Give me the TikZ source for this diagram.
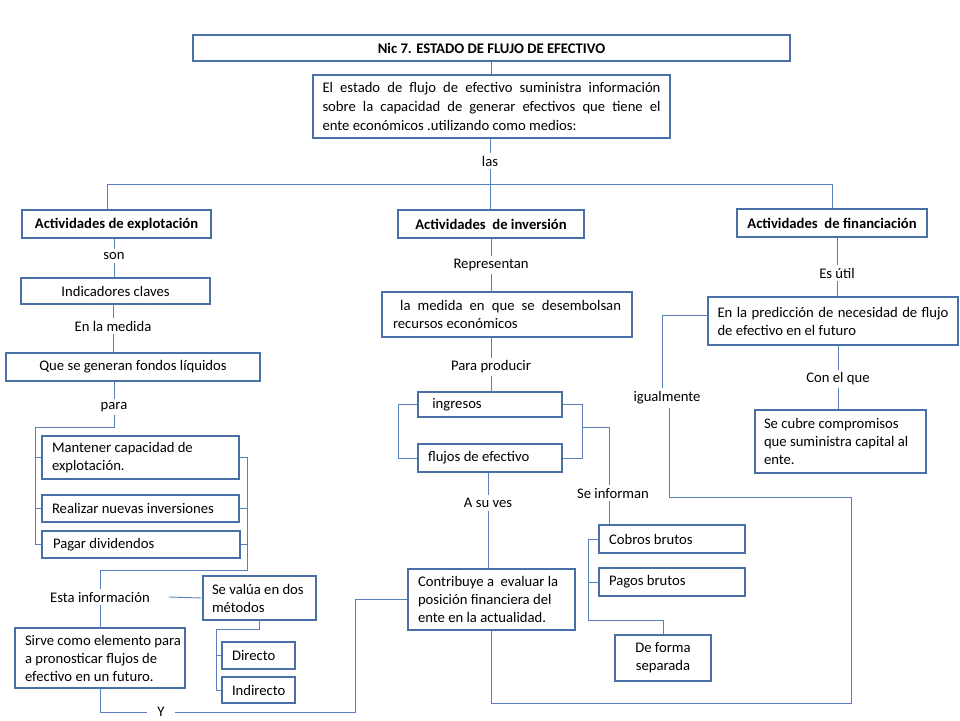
\documentclass[tikz,border=0pt]{standalone}
\usepackage{fontspec}
\setmainfont{Carlito}
\definecolor{boxc}{RGB}{74,112,168}
\definecolor{linec}{RGB}{88,128,188}
\newcommand\fs{\fontsize{14.67}{18}\selectfont}
\newcommand\jl[1]{\makebox[\hsize][s]{#1}}
\newcommand\ml[1]{\mbox{#1}}
\begin{document}
\begin{tikzpicture}[x=1pt,y=-1pt,
 box/.style={draw=boxc,line width=2.6pt,fill=white,inner sep=0pt,font=\fs,text=black,
   execute at begin node={\spaceskip=0pt\xspaceskip=0pt\relax}},
 bbox/.style={box,font=\fs\bfseries},
 lbl/.style={inner sep=3pt,font=\fs},
 conn/.style={draw=linec,line width=0.9pt}]
\useasboundingbox[fill=white] (0,0) rectangle (960,720);

% ---------- boxes ----------
\node[bbox,minimum width=597,minimum height=26] (title) at (491.5,48) {Nic 7. ESTADO DE FLUJO DE EFECTIVO};
\node[box,minimum width=357,minimum height=63,text width=338,align=left,font=\fontsize{14.67}{19.2}\selectfont] (intro) at (491.5,106.5)
 {\jl{El estado de flujo de efectivo suministra información}\\\jl{sobre la capacidad de generar efectivos que tiene el}\\\ml{ente económicos .utilizando como medios:}};

\node[bbox,minimum width=189,minimum height=28] (explot) at (116.5,224) {Actividades de explotación};
\node[bbox,minimum width=186,minimum height=28] (invers) at (491,224) {Actividades\ \ de inversión};
\node[bbox,minimum width=190,minimum height=28] (financ) at (832,223) {Actividades\ \ de financiación};

\node[box,minimum width=189,minimum height=26] (indic) at (115.5,291) {Indicadores claves};
\node[box,minimum width=254,minimum height=28] (quese) at (133,367) {Que se generan fondos líquidos};
\node[box,minimum width=197,minimum height=43,text width=177,align=left] (mant) at (140.5,457.5) {\ml{Mantener capacidad de}\\\ml{explotación.}};
\node[box,minimum width=197,minimum height=27,text width=177,align=left] (real) at (140.5,508.5) {\ml{Realizar nuevas inversiones}};
\node[box,minimum width=198,minimum height=27,text width=176,align=left] (pagar) at (141,544.5) {\ml{Pagar dividendos}};
\node[box,minimum width=113,minimum height=44,text width=95,align=left] (sevalua) at (259.5,598) {\ml{Se valúa en dos}\\\ml{métodos}};
\node[box,minimum width=73,minimum height=27,text width=53,align=left] (directo) at (258.5,655.5) {\ml{Directo}};
\node[box,minimum width=73,minimum height=26,text width=53,align=left] (indirecto) at (258.5,690) {\ml{Indirecto}};
\node[box,minimum width=170,minimum height=60,text width=150,align=left] (sirve) at (100,658) {\ml{Sirve como elemento para}\\\ml{a pronosticar flujos de}\\\ml{efectivo en un futuro.}};

\node[box,minimum width=250,minimum height=45,text width=228,align=left] (medida) at (507,314.5) {\jl{\ la medida en que se desembolsan}\\\ml{recursos económicos}};
\node[box,minimum width=144,minimum height=25,text width=122,align=left] (ingresos) at (490,404.5) {\ml{\ ingresos}};
\node[box,minimum width=144,minimum height=28,text width=124,align=left] (flujos) at (490,458) {\ml{flujos de efectivo}};
\node[box,minimum width=167,minimum height=61,text width=147,align=left] (contrib) at (491.5,599.5) {\ml{Contribuye a\ \ evaluar la}\\\ml{posición financiera del}\\\ml{ente en la actualidad.}};
\node[box,minimum width=146,minimum height=28,text width=126,align=left] (cobros) at (672,539) {\ml{Cobros brutos}};
\node[box,minimum width=146,minimum height=28,text width=126,align=left] (pagos) at (672,582) {\ml{Pagos brutos}};
\node[box,minimum width=96,minimum height=46,align=center] (deforma) at (663,658) {De forma\\separada};

\node[box,minimum width=250,minimum height=48,text width=231,align=left] (predic) at (833,321) {\jl{En la predicción de necesidad de flujo}\\\ml{de efectivo en el futuro}};
\node[box,minimum width=171,minimum height=63,text width=153,align=left] (secubre) at (840.5,441.5) {\ml{Se cubre compromisos}\\\ml{que suministra capital al}\\\ml{ente.}};

% ---------- labels ----------
\node[lbl] (las) at (490,161) {las};
\node[lbl] (son) at (114,256) {son};
\node[lbl] (enla) at (113,326) {En la medida};
\node[lbl] (para) at (114,407) {para};
\node[lbl] (esta) at (100,597) {Esta información};
\node[lbl,inner xsep=10pt] (Y) at (161,712) {Y};
\node[lbl] (repr) at (491,265) {Representan};
\node[lbl] (parap) at (491,367) {Para producir};
\node[lbl] (asuves) at (488,503) {A su ves};
\node[lbl] (seinf) at (613,493) {Se informan};
\node[lbl] (esutil) at (837,273) {Es útil};
\node[lbl] (conel) at (838,379) {Con el que};
\node[lbl] (igual) at (667,398) {igualmente};

% ---------- coordinates ----------
\coordinate (barL) at (107,184);
\coordinate (barR) at (832,184);
\coordinate (lb) at (35,427);
\coordinate (rb) at (247,570);
\coordinate (mb) at (216,629);
\coordinate (yc) at (355,712);
\coordinate (lbr) at (398,0);
\coordinate (rbr) at (582,0);
\coordinate (rbm) at (582,427);
\coordinate (sx) at (609,0);
\coordinate (cb) at (588,620);
\coordinate (lp1) at (851,703);
\coordinate (lp2) at (669,497);
\coordinate (ig2) at (662,315);

% ---------- connectors ----------
\draw[conn] (title.south -| intro.north) -- (intro.north);
\draw[conn] (las.north) -- (las.north |- intro.south);
\draw[conn] (las.south) -- (las.south |- invers.north);
\draw[conn] (barL) -- (barR);
\draw[conn] (barL) -- (barL |- explot.north);
\draw[conn] (barR) -- (barR |- financ.north);

\draw[conn] (son.north) -- (son.north |- explot.south);
\draw[conn] (son.south) -- (son.south |- indic.north);
\draw[conn] (enla.north) -- (enla.north |- indic.south);
\draw[conn] (enla.south) -- (enla.south |- quese.north);
\draw[conn] (para.north) -- (para.north |- quese.south);
\draw[conn] (para.south) |- (lb) -- (lb |- pagar.west) -- (pagar.west);
\draw[conn] (lb |- mant.west) -- (mant.west);
\draw[conn] (lb |- real.west) -- (real.west);
\draw[conn] (mant.east) -- (mant.east -| rb) -- (rb) -- (rb -| esta.north) -- (esta.north);
\draw[conn] (real.east) -- (real.east -| rb);
\draw[conn] (pagar.east) -- (pagar.east -| rb);
\draw[conn] (esta.south) -- (sirve.north);
\draw[conn] ([xshift=16pt]esta.east) -- (sevalua.west);
\draw[conn] (sevalua.south) |- (mb) -- (mb |- indirecto.west) -- (indirecto.west);
\draw[conn] (mb |- directo.west) -- (directo.west);
\draw[conn] (sirve.south) |- (Y.west);
\draw[conn] (Y.east) -- (yc) |- (contrib.west);

\draw[conn] (repr.north) -- (repr.north |- invers.south);
\draw[conn] (repr.south) -- (repr.south |- medida.north);
\draw[conn] (parap.north) -- (parap.north |- medida.south);
\draw[conn] (parap.south) -- (parap.south |- ingresos.north);
\draw[conn] (ingresos.west) -- (ingresos.west -| lbr) -- (flujos.west -| lbr) -- (flujos.west);
\draw[conn] (ingresos.east) -- (ingresos.east -| rbr) -- (flujos.east -| rbr) -- (flujos.east);
\draw[conn] (rbm) -- (rbm -| sx) -- (sx |- seinf.north);
\draw[conn] (sx |- seinf.south) -- (sx |- cobros.north);
\draw[conn] (asuves.north) -- (asuves.north |- flujos.south);
\draw[conn] (asuves.south) -- (asuves.south |- contrib.north);
\draw[conn] (cobros.west) -- (cobros.west -| cb) -- (cb) -| (deforma.north);
\draw[conn] (pagos.west) -- (pagos.west -| cb);
\draw[conn] (contrib.south) |- (lp1) -- (lp1 |- lp2) -- (lp2) -- (lp2 |- igual.south);
\draw[conn] (ig2 |- igual.north) -- (ig2) -- (ig2 -| predic.west);

\draw[conn] (esutil.north) -- (esutil.north |- financ.south);
\draw[conn] (esutil.south) -- (esutil.south |- predic.north);
\draw[conn] (conel.north) -- (conel.north |- predic.south);
\draw[conn] (conel.south) -- (conel.south |- secubre.north);
\end{tikzpicture}
\end{document}
